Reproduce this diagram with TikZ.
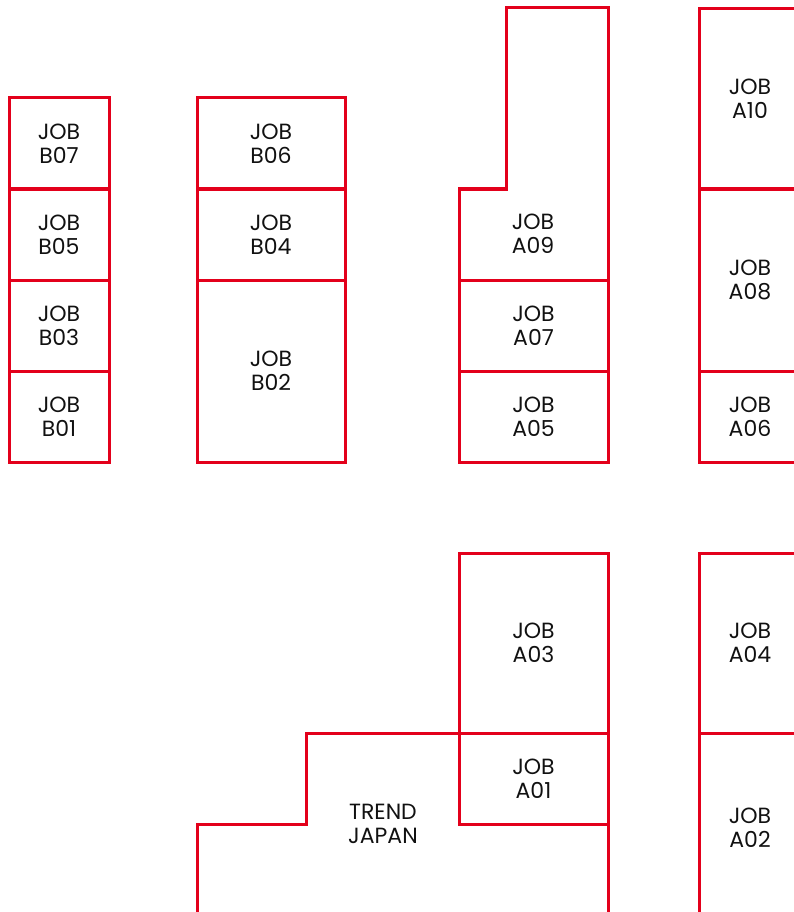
\documentclass[tikz,border=0pt]{standalone}
\usepackage{fontspec}
\setmainfont{Poppins}
\usepackage{tikz}
\usetikzlibrary{positioning}
\usepackage{xcolor}
\definecolor{boothred}{HTML}{E3001B}
\definecolor{inkgrey}{HTML}{111111}

\begin{document}
\begin{tikzpicture}[x=1pt, y=-1pt,
    booth/.style={draw=boothred, line width=3pt, anchor=north west, inner sep=0pt, outer sep=0pt,
                  align=center, text=inkgrey, font=\fontsize{22}{24}\selectfont},
    label/.style={align=center, text=inkgrey, font=\fontsize{22}{24}\selectfont}]
    \useasboundingbox (0,0) rectangle (794,912);
    \clip (0,0) rectangle (794,912);
    % Hall B, left row
    \node[booth, minimum width=100pt, minimum height=91pt] (b07) at (9,98) {JOB\\B07};
    \node[booth, minimum width=100pt, minimum height=91pt] (b05) at (9,189) {JOB\\B05};
    \node[booth, minimum width=100pt, minimum height=91pt] (b03) at (9,280) {JOB\\B03};
    \node[booth, minimum width=100pt, minimum height=91pt] (b01) at (9,371) {JOB\\B01};
    % Hall B, second row
    \node[booth, minimum width=148pt, minimum height=91pt] (b06) at (197,98) {JOB\\B06};
    \node[booth, minimum width=148pt, minimum height=91pt] (b04) at (197,189) {JOB\\B04};
    \node[booth, minimum width=148pt, minimum height=182pt] (b02) at (197,280) {JOB\\B02};
    % Hall A, upper block
    \draw[boothred, line width=3pt] (459,189) -- (506,189) -- (506,8) -- (608,8)
        -- (608,280) -- (459,280) -- cycle;
    \node[label] (a09) at (533,234) {JOB\\A09};
    \node[booth, minimum width=149pt, minimum height=91pt] (a07) at (459,280) {JOB\\A07};
    \node[booth, minimum width=149pt, minimum height=91pt] (a05) at (459,371) {JOB\\A05};
    \node[booth, minimum width=102pt, minimum height=180pt] (a10) at (699,9) {JOB\\A10};
    \node[booth, minimum width=102pt, minimum height=182pt] (a08) at (699,189) {JOB\\A08};
    \node[booth, minimum width=102pt, minimum height=91pt] (a06) at (699,371) {JOB\\A06};
    % Hall A, lower block
    \node[booth, minimum width=149pt, minimum height=180pt] (a03) at (459,553) {JOB\\A03};
    \node[booth, minimum width=149pt, minimum height=91pt] (a01) at (459,733) {JOB\\A01};
    \node[booth, minimum width=102pt, minimum height=180pt] (a04) at (699,553) {JOB\\A04};
    \node[booth, minimum width=102pt, minimum height=190pt] (a02) at (699,733) {JOB\\A02};
    % Trend Japan area
    \draw[boothred, line width=3pt] (197,925) -- (197,824) -- (306,824) -- (306,733)
        -- (459,733) -- (459,824) -- (608,824) -- (608,925);
    \node[label] (trend) at (383,824) {TREND\\JAPAN};
\end{tikzpicture}
\end{document}
